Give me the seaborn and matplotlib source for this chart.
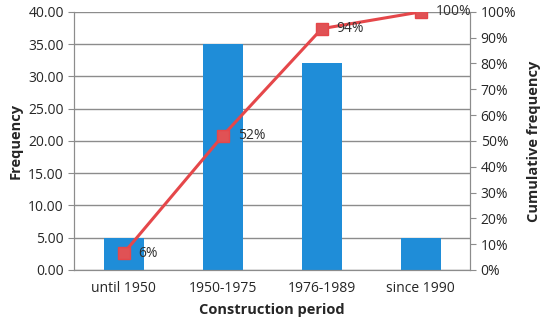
import seaborn as sns
import matplotlib.pyplot as plt
from matplotlib.ticker import FuncFormatter

# data
periods = ["until 1950", "1950-1975", "1976-1989", "since 1990"]
frequency = [5, 35, 32, 5]
cumulative = [6.5, 52, 93.5, 100]
cum_labels = ["6%", "52%", "94%", "100%"]

sns.set_style("white")
plt.rcParams['font.family'] = ['Open Sans', 'DejaVu Sans']
plt.rcParams['font.size'] = 10

fig, ax = plt.subplots(figsize=(5.5, 3.3), dpi=100)
fig.subplots_adjust(left=0.135, right=0.855, top=0.964, bottom=0.182)

sns.barplot(x=periods, y=frequency, color="#1F8DD8", width=0.4, saturation=1,
            linewidth=0, ax=ax, zorder=2)
ax.set_ylim(0, 40)
ax.set_yticks(range(0, 41, 5))
ax.yaxis.set_major_formatter(FuncFormatter(lambda v, p: f"{v:.2f}"))
ax.yaxis.grid(True, color="#8c8c8c", linewidth=1, zorder=0)
ax.set_axisbelow(True)
ax.set_xlim(-0.5, 3.5)
ax.set_xticks([-0.5, 0.5, 1.5, 2.5, 3.5], minor=False)
ax.set_xticklabels([])
ax.set_xticks(range(4), minor=True)
ax.set_xticklabels(periods, minor=True)
ax.tick_params(axis='x', which='major', length=4, color="#8c8c8c", direction='out')
ax.tick_params(axis='x', which='minor', length=0, pad=8)
ax.tick_params(axis='y', length=4, color="#8c8c8c", direction='out', left=True)
ax.set_xlabel("Construction period", fontweight='bold', fontsize=10.5, labelpad=5)
ax.set_ylabel("Frequency", fontweight='bold', fontsize=10.5)
for s in ax.spines.values():
    s.set_color("#8c8c8c")
ax.spines['top'].set_visible(False)

ax2 = ax.twinx()
ax2.plot(range(4), cumulative, color="#E5474A", linewidth=2.2, marker='s',
         markersize=9, markerfacecolor="#E05255", markeredgecolor="#E5474A", zorder=3)
for i, (v, lab) in enumerate(zip(cumulative, cum_labels)):
    ax2.text(i + 0.15, v, lab, va='center', ha='left', fontsize=10, color="#303030")
ax2.set_ylim(0, 100)
ax2.set_yticks(range(0, 101, 10))
ax2.yaxis.set_major_formatter(FuncFormatter(lambda v, p: f"{v:.0f}%"))
ax2.tick_params(axis='y', length=4, color="#8c8c8c", direction='out', right=True)
ax2.set_ylabel("Cumulative frequency", fontweight='bold', fontsize=10.5, labelpad=8)
for s in ax2.spines.values():
    s.set_color("#8c8c8c")
ax2.spines['top'].set_visible(False)

plt.savefig("out.png")
